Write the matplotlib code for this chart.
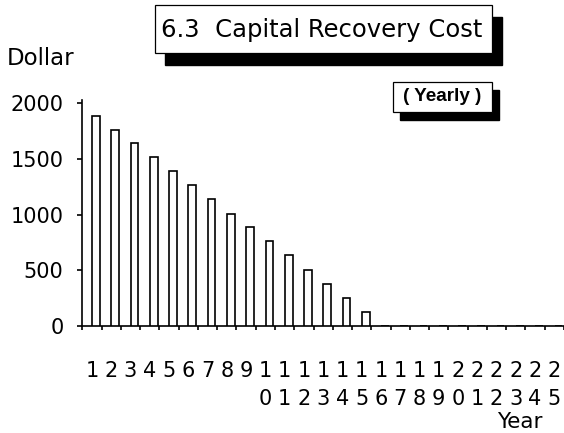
import numpy as np
import matplotlib
matplotlib.use("Agg")
import matplotlib.pyplot as plt
from matplotlib.patches import Rectangle

# yearly capital recovery cost, years 1-25
years = list(range(1, 26))
cost = [1890, 1765, 1640, 1515, 1390, 1265, 1140, 1010, 885, 760,
        635, 505, 380, 255, 128, 0, 0, 0, 0, 0, 0, 0, 0, 0, 0]
year_labels = ["\n".join(str(y)) for y in years]  # digits stacked vertically
y_ticks = [0, 500, 1000, 1500, 2000]

W, H = 564, 433
fig = plt.figure(figsize=(W / 100, H / 100), dpi=100)
plt.rcParams['font.family'] = ['DejaVu Sans']

ax = fig.add_axes([82.3 / W, 107 / H, (W - 82.3) / W, 226 / H])

x = np.array(years)
ax.bar(x + 0.21, cost, width=0.40, color="white", edgecolor="black",
       linewidth=1.2, zorder=3)

ax.set_xlim(0.5, 25.38)
ax.set_ylim(0, 2030)

for s in ["top", "right"]:
    ax.spines[s].set_visible(False)
for s in ["left", "bottom"]:
    ax.spines[s].set_linewidth(1.2)

# labels sit under the slot centres, tick marks on the slot boundaries
ax.set_xticks(x)
ax.set_xticklabels(year_labels, linespacing=1.52)
ax.set_xticks(np.arange(0.5, 26, 1), minor=True)
ax.tick_params(axis="x", which="major", length=0, pad=25, labelsize=15)
ax.tick_params(axis="x", which="minor", direction="out", length=3, width=1.2)

ax.set_yticks(y_ticks)
ax.tick_params(axis="y", direction="out", length=3.6, width=1.2,
               pad=10, labelsize=15)

fig.text(7 / W, 1 - 65 / H, "Dollar", fontsize=16.5, ha="left", va="baseline")
fig.text(543 / W, 1 - 428 / H, "Year", fontsize=15.5, ha="right", va="baseline")

def shadow_box(x0, y0, x1, y1, dx, dy):
    # white framed box with a solid black drop shadow, pixel coords from top
    fig.patches.append(Rectangle((x0 + dx, H - y1 - dy), x1 - x0, y1 - y0,
                                 transform=None, facecolor="black",
                                 edgecolor="black", zorder=1))
    fig.patches.append(Rectangle((x0, H - y1), x1 - x0, y1 - y0,
                                 transform=None, facecolor="white",
                                 edgecolor="black", linewidth=0.9, zorder=2))

shadow_box(155, 5, 491.7, 53.3, 10, 12)
fig.text(322 / W, 1 - 29.5 / H, "6.3  Capital Recovery Cost", fontsize=17.5,
         ha="center", va="center", zorder=5)

shadow_box(393.3, 81.7, 491.7, 111.7, 7, 8)
fig.text(442 / W, 1 - 96.5 / H, "( Yearly )", fontsize=13.6,
         family=["Liberation Sans"], fontweight="bold",
         ha="center", va="center", zorder=5)

fig.savefig("out.png", dpi=100)
